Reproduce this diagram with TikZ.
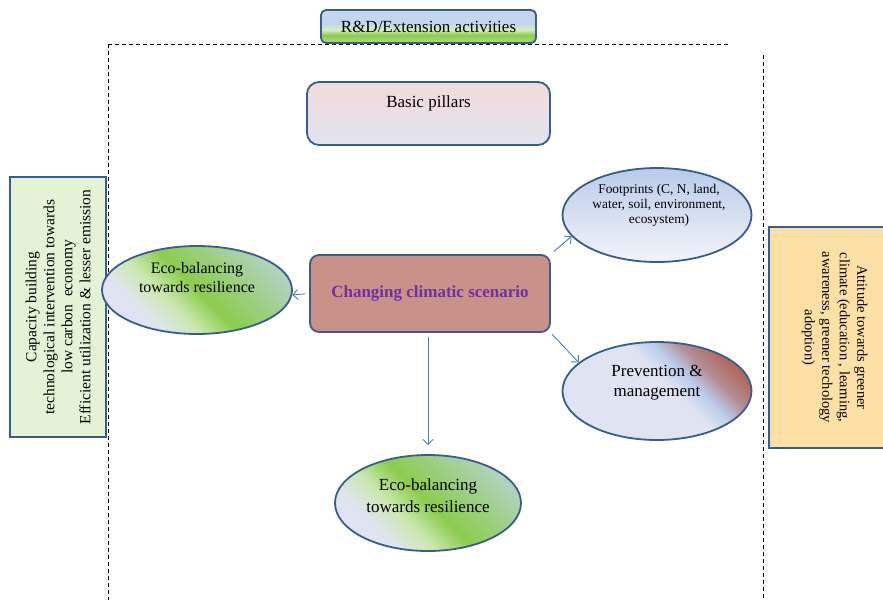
\documentclass[tikz,border=0pt]{standalone}
\usepackage{fontspec}
\setmainfont{Liberation Serif}
\usetikzlibrary{shapes.geometric,arrows.meta}

\definecolor{ccEdge}{RGB}{56,93,138}
\definecolor{ccArrow}{RGB}{74,126,187}
\definecolor{ccCore}{RGB}{200,145,138}
\definecolor{ccPurple}{RGB}{112,48,160}
\definecolor{ccLeaf}{RGB}{228,243,214}
\definecolor{ccSand}{RGB}{252,224,166}
\definecolor{ccLav}{RGB}{224,228,242}
\definecolor{ccGreen}{RGB}{140,204,78}
\definecolor{ccSage}{RGB}{176,210,190}
\definecolor{ccSky}{RGB}{186,203,233}
\definecolor{ccRust}{RGB}{176,104,96}
\definecolor{ccPink}{RGB}{242,218,218}
\definecolor{ccRdBlue}{RGB}{196,213,238}

\pgfdeclarehorizontalshading{ecoshade}{100bp}{color(0bp)=(ccLav); color(30bp)=(ccLav);
  color(40bp)=(ccGreen!45!white); color(50bp)=(ccGreen); color(62bp)=(ccGreen!55!ccSage);
  color(75bp)=(ccSage); color(100bp)=(ccSage)}
\pgfdeclarehorizontalshading{careshade}{100bp}{color(0bp)=(ccLav); color(54bp)=(ccLav);
  color(61bp)=(ccSky); color(67bp)=(ccRust!60!ccSky); color(75bp)=(ccRust); color(100bp)=(ccRust)}
\pgfdeclareverticalshading{rdshade}{100bp}{color(0bp)=(ccGreen!80!white); color(29bp)=(ccGreen!80!white);
  color(37bp)=(ccGreen); color(45bp)=(ccGreen!35!white); color(54bp)=(ccRdBlue); color(100bp)=(ccRdBlue)}

\begin{document}
\begin{tikzpicture}[x=1pt, y=-1pt, font=\fontsize{17}{20}\selectfont,
  box/.style={draw=ccEdge, line width=1.8pt, rounded corners=9pt},
  sidebox/.style={draw=ccEdge, line width=1.8pt, align=center},
  oval/.style={ellipse, draw=ccEdge, line width=1.8pt, inner sep=0pt},
  flow/.style={draw=ccArrow, line width=0.9pt, -{Straight Barb[length=5pt,width=10pt]}},
  fence/.style={dash pattern=on 4pt off 3pt, line width=0.9pt}]
\useasboundingbox (0,0) rectangle (883,600);

%% dashed frame
\draw[fence] (108,44) -- (730,44);
\draw[fence] (108,44) -- (108,600);
\draw[fence] (763,55) -- (763,600);

%% top boxes
\node[box, rounded corners=5pt, shading=rdshade, minimum width=215pt, minimum height=33pt] (rd) at (428.5,26.5) {R\&D/Extension activities};
\node[box, rounded corners=12pt, top color=ccPink, bottom color=ccLav!90!ccPink, minimum width=243pt, minimum height=63pt] (pillars) at (428.5,113.5) {};
\node (pillarstext) at ([yshift=10pt]pillars.center) {Basic pillars};

%% side boxes
\node[sidebox, fill=ccLeaf, rotate=90, minimum width=260pt, minimum height=96pt, font=\fontsize{15.5}{18}\selectfont] (build) at (58,307)
  {Capacity building\\technological intervention towards\\low carbon\ \ economy\\Efficient utilization \& lesser emission};
\node[sidebox, fill=ccSand, rotate=-90, minimum width=221pt, minimum height=131pt, font=\fontsize{14.5}{17.5}\selectfont] (attitude) at (834.5,337.5)
  {Attitude towards greener\\climate (education , learning,\\awareness, greener techology\\adoption)};

%% centre and ovals
\node[box, fill=ccCore, minimum width=240pt, minimum height=77pt, text=ccPurple, font=\fontsize{17}{20}\selectfont\bfseries] (climate) at (430,293.5) {Changing climatic scenario};
\node[oval, shading=ecoshade, shading angle=45, minimum width=190pt, minimum height=88pt] (eco1) at (197,290) {};
\node[align=center, font=\fontsize{16}{19}\selectfont] (eco1text) at ([yshift=12pt]eco1.center) {Eco-balancing\\towards resilience};
\node[oval, top color=ccSky, bottom color=ccLav!40!white, minimum width=189pt, minimum height=94pt] (foot) at (657,215) {};
\node[align=center, font=\fontsize{13.4}{15}\selectfont] (foottext) at ([xshift=2pt,yshift=10pt]foot.center) {Footprints (C, N, land,\\water, soil, environment,\\ecosystem)};
\node[oval, shading=careshade, shading angle=45, minimum width=189pt, minimum height=98pt] (care) at (657,391) {};
\node[align=center] (caretext) at ([yshift=8pt]care.center) {Prevention \&\\management};
\node[oval, shading=ecoshade, shading angle=45, minimum width=186pt, minimum height=96pt] (eco2) at (428,503) {};
\node[align=center, font=\fontsize{17}{22}\selectfont] (eco2text) at ([yshift=7pt]eco2.center) {Eco-balancing\\towards resilience};

%% arrows
\draw[flow, shorten <=4pt] (climate.west) -- (eco1.-3);
\draw[flow, shorten <=4pt] (climate.north east) -- (foot.194);
\draw[flow, shorten <=2pt] (climate.south east) -- (care.160);
\draw[flow, shorten <=4pt, shorten >=9pt] (eco2.north |- climate.south) -- (eco2.north);
\end{tikzpicture}
\end{document}
